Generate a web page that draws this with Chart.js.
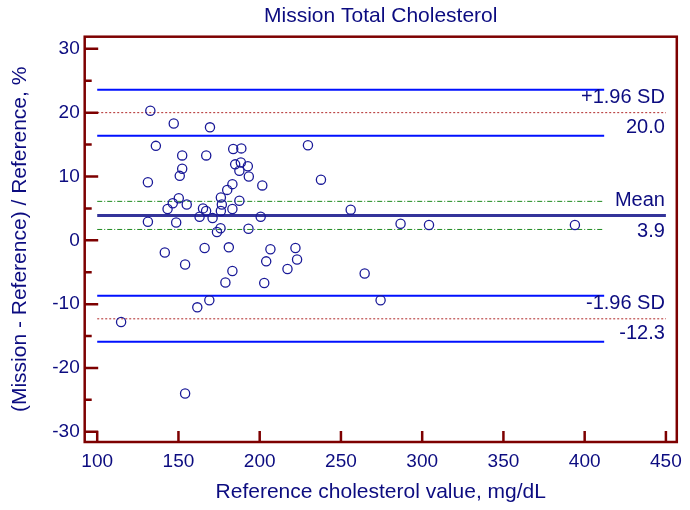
<!DOCTYPE html>
<html>
<head>
<meta charset="utf-8">
<title>Mission Total Cholesterol</title>
<script src="https://cdn.jsdelivr.net/npm/chart.js@4.4.1/dist/chart.umd.min.js"></script>
<style>
  html, body { margin: 0; padding: 0; background: #fff; }
  #wrap { width: 690px; height: 510px; }
</style>
</head>
<body>
<div id="wrap"><canvas id="myChart" width="690" height="510"></canvas></div>
<script>
// data
const refValues = [114.7, 131.2, 131.2, 132.7, 136.1, 141.6, 143.3, 146.5, 147.1, 148.6,
  150.2, 150.8, 152.3, 152.3, 154.1, 154.1, 155.1, 161.6, 163.0, 165.1,
  166.1, 167.0, 167.1, 169.0, 169.4, 171.0, 173.7, 176.1, 176.7, 176.1,
  175.9, 178.9, 180.0, 181.0, 183.2, 183.2, 183.2, 183.7, 184.9, 187.5,
  187.5, 188.4, 188.7, 192.7, 193.3, 193.1, 200.6, 201.6, 202.8, 204.0,
  206.6, 222.0, 223.0, 217.1, 229.7, 237.7, 256.0, 264.6, 274.4, 286.7,
  304.2, 394.0];
const pctDiffs = [-12.8, 9.1, 2.9, 20.3, 14.8, -1.9, 4.9, 5.8, 18.3, 2.8,
  6.6, 10.1, 11.2, 13.3, -3.8, -24.0, 5.6, -10.5, 3.7, 5.0,
  -1.2, 4.6, 13.3, -9.4, 17.7, 3.5, 1.3, 6.7, 5.6, 4.6,
  1.9, -6.6, 7.9, -1.1, 8.8, 4.9, -4.8, 14.3, 11.9, 6.2,
  10.9, 12.2, 14.4, 11.6, 10.0, 1.8, 3.7, 8.6, -6.7, -3.3,
  -1.4, -1.2, -3.0, -4.5, 14.9, 9.5, 4.8, -5.2, -9.4, 2.6,
  2.4, 2.4];

const xTicks = [100, 150, 200, 250, 300, 350, 400, 450];
const yTicks = [-30, -20, -10, 0, 10, 20, 30];
const yMinorTicks = [-25, -15, -5, 5, 15, 25];

const meanDiff = 3.9;
const meanCI = [1.7, 6.1];
const upperLoA = 20.0;
const upperCI = [16.4, 23.6];
const lowerLoA = -12.3;
const lowerCI = [-15.9, -8.7];
const lineStart = 100;
const ciLineEnd = 412;
const fullLineEnd = 450;

const navy = '#0c0c80';
const frameColor = '#7d0000';
const fontFamily = '"Liberation Sans", Arial, sans-serif';

function hLine(y, x1, x2, color, width, dash, order) {
  return {
    type: 'line',
    data: [{ x: x1, y: y }, { x: x2, y: y }],
    borderColor: color,
    borderWidth: width,
    borderDash: dash,
    pointRadius: 0,
    fill: false,
    order: order
  };
}

// frame with inward tick marks plus the labels at the right
const frameTicks = {
  id: 'frameTicks',
  afterDatasetsDraw(chart) {
    const ctx = chart.ctx;
    const a = chart.chartArea;
    const xs = chart.scales.x;
    const ys = chart.scales.y;
    ctx.save();
    ctx.strokeStyle = frameColor;
    ctx.lineWidth = 2.5;
    ctx.strokeRect(a.left, a.top, a.right - a.left, a.bottom - a.top);
    ctx.beginPath();
    xTicks.forEach(function (v) {
      const px = xs.getPixelForValue(v);
      ctx.moveTo(px, a.bottom);
      ctx.lineTo(px, a.bottom - 11);
    });
    yTicks.forEach(function (v) {
      const py = ys.getPixelForValue(v);
      ctx.moveTo(a.left, py);
      ctx.lineTo(a.left + 13.5, py);
    });
    yMinorTicks.forEach(function (v) {
      const py = ys.getPixelForValue(v);
      ctx.moveTo(a.left, py);
      ctx.lineTo(a.left + 7, py);
    });
    ctx.stroke();

    ctx.fillStyle = navy;
    ctx.font = '20px ' + fontFamily;
    ctx.textAlign = 'right';
    ctx.textBaseline = 'middle';
    const lx = xs.getPixelForValue(fullLineEnd) - 1;
    const labels = [
      ['+1.96 SD', upperLoA, -15], [upperLoA.toFixed(1), upperLoA, 15],
      ['Mean', meanDiff, -15], [meanDiff.toFixed(1), meanDiff, 16],
      ['-1.96 SD', lowerLoA, -15], [lowerLoA.toFixed(1), lowerLoA, 15]
    ];
    labels.forEach(function (l) {
      ctx.fillText(l[0], lx, ys.getPixelForValue(l[1]) + l[2]);
    });
    ctx.restore();
  }
};

const ctx = document.getElementById('myChart');

new Chart(ctx, {
  type: 'scatter',
  data: {
    datasets: [
      {
        label: 'Differences',
        data: refValues.map(function (v, i) { return { x: v, y: pctDiffs[i] }; }),
        pointStyle: 'circle',
        pointRadius: 4.6,
        pointBorderWidth: 1.3,
        pointBorderColor: '#1a1a98',
        pointBackgroundColor: 'rgba(0,0,0,0)',
        order: 0
      },
      hLine(meanDiff, lineStart, fullLineEnd, '#34349a', 3, [], 1),
      hLine(meanCI[0], lineStart, ciLineEnd, '#1f8a1f', 1, [5, 2, 1, 2], 2),
      hLine(meanCI[1], lineStart, ciLineEnd, '#1f8a1f', 1, [5, 2, 1, 2], 2),
      hLine(upperLoA, lineStart, fullLineEnd, '#b02828', 1, [2, 2], 2),
      hLine(upperCI[0], lineStart, ciLineEnd, '#0010ff', 2, [], 2),
      hLine(upperCI[1], lineStart, ciLineEnd, '#0010ff', 2, [], 2),
      hLine(lowerLoA, lineStart, fullLineEnd, '#b02828', 1, [2, 2], 2),
      hLine(lowerCI[0], lineStart, ciLineEnd, '#0010ff', 2, [], 2),
      hLine(lowerCI[1], lineStart, ciLineEnd, '#0010ff', 2, [], 2)
    ]
  },
  options: {
    responsive: false,
    animation: false,
    layout: { padding: { left: 0, right: 9.7, top: 0, bottom: 0 } },
    plugins: {
      legend: { display: false },
      tooltip: { enabled: false },
      title: {
        display: true,
        text: 'Mission Total Cholesterol',
        color: navy,
        fullSize: false,
        font: { family: fontFamily, size: 21, weight: 'normal' },
        padding: { top: 4, bottom: 7.5 }
      }
    },
    scales: {
      x: {
        type: 'linear',
        min: 92.3,
        max: 456.7,
        afterBuildTicks: function (s) { s.ticks = xTicks.map(function (v) { return { value: v }; }); },
        afterFit: function (s) { s.height = 68; },
        grid: { display: false, drawTicks: false },
        border: { display: false },
        ticks: {
          color: navy,
          padding: 8,
          font: { family: fontFamily, size: 19 },
          callback: function (v) { return String(v); }
        },
        title: {
          display: true,
          text: 'Reference cholesterol value, mg/dL',
          color: navy,
          font: { family: fontFamily, size: 21 },
          padding: { top: 0, bottom: 5 }
        }
      },
      y: {
        type: 'linear',
        min: -31.6,
        max: 31.9,
        afterBuildTicks: function (s) { s.ticks = yTicks.map(function (v) { return { value: v }; }); },
        afterFit: function (s) { s.width = 84.7; },
        grid: { display: false, drawTicks: false },
        border: { display: false },
        ticks: {
          color: navy,
          padding: 5,
          font: { family: fontFamily, size: 19 },
          callback: function (v) { return String(v); }
        },
        title: {
          display: true,
          text: '(Mission - Reference) / Reference, %',
          color: navy,
          font: { family: fontFamily, size: 21 },
          padding: { top: 8, bottom: 0 }
        }
      }
    }
  },
  plugins: [frameTicks]
});
</script>
</body>
</html>
